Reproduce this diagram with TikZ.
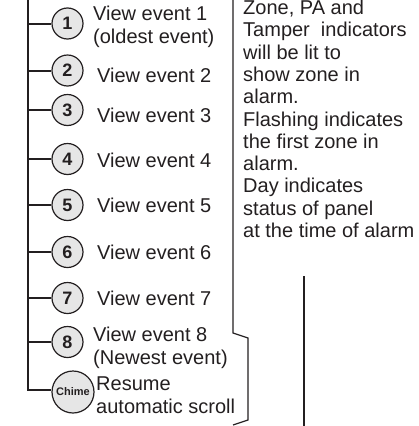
\documentclass[tikz,border=0pt]{standalone}
\usepackage{fontspec}
\setmainfont{Liberation Sans}
\definecolor{ink}{HTML}{231F20}
\definecolor{keyfill}{HTML}{E6E6E6}
\begin{document}
\begin{tikzpicture}[x=1pt,y=-1pt,
  keybtn/.style={circle,draw=ink,line width=1.2pt,fill=keyfill,minimum size=31pt,inner sep=0pt,
    font=\fontsize{18}{18}\selectfont\bfseries,text=ink},
  chimebtn/.style={keybtn,minimum size=42pt,font=\fontsize{11}{11}\selectfont\bfseries},
  lbl/.style={anchor=base west,inner sep=0pt,align=left,text=ink,
    font=\fontsize{20}{22.5}\selectfont},
  spine/.style={draw=ink,line width=2pt},
  thin/.style={draw=ink,line width=1.2pt}]
\useasboundingbox (0,0) rectangle (418,426);
% buttons
\node[keybtn] (c1) at (67.5,23.5) {1};
\node[keybtn] (c2) at (67.5,70.5) {2};
\node[keybtn] (c3) at (67.5,110) {3};
\node[keybtn] (c4) at (67.5,159) {4};
\node[keybtn] (c5) at (67.5,205) {5};
\node[keybtn] (c6) at (67.5,252) {6};
\node[keybtn] (c7) at (67.5,298) {7};
\node[keybtn] (c8) at (67.5,342) {8};
\node[chimebtn] (ch) at (73,392) {Chime};
% spine
\coordinate (top) at (28,-2);
\coordinate (s1) at (28,23.5);
\coordinate (s2) at (28,70.5);
\coordinate (s3) at (28,110);
\coordinate (s4) at (28,159);
\coordinate (s5) at (28,205);
\coordinate (s6) at (28,252);
\coordinate (s7) at (28,298);
\coordinate (s8) at (28,342);
\coordinate (s9) at (28,390);
\draw[spine] (top) -- (s9) -- (s9 -| ch.west);
\foreach \i in {1,...,8} \draw[spine] (s\i) -- (c\i.west);
% labels (base = last line)
\node[lbl] (t1) at (93,43) {View event 1\\(oldest event)};
\node[lbl] (t2) at (97,82) {View event 2};
\node[lbl] (t3) at (97,122) {View event 3};
\node[lbl] (t4) at (97,167) {View event 4};
\node[lbl] (t5) at (97,212) {View event 5};
\node[lbl] (t6) at (97,259) {View event 6};
\node[lbl] (t7) at (97,305) {View event 7};
\node[lbl] (t8) at (93,364) {View event 8\\(Newest event)};
\node[lbl] (t9) at (96,413) {Resume\\automatic scroll};
% bracket
\draw[thin] (233,-2) -- (233,333) -- (248,338) -- (248,420) -- (233,425);
% right text
\node[lbl,font=\fontsize{20}{22.3}\selectfont] (info) at (243,237.5)
  {Zone, PA and\\Tamper\ \ indicators\\will be lit to\\show zone in\\alarm.\\Flashing indicates\\the first zone in\\alarm.\\Day indicates\\status of panel\\at the time of alarm};
% right vertical line
\draw[thin] (304,276) -- (304,428);
\end{tikzpicture}
\end{document}
